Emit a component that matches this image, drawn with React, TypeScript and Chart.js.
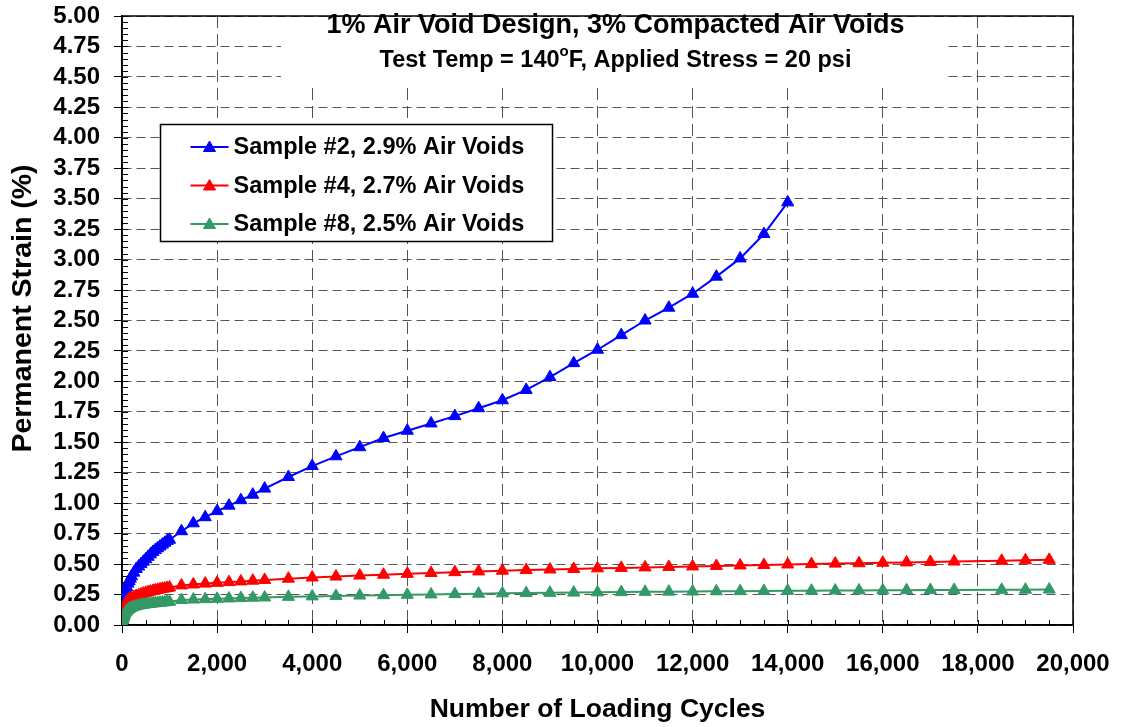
import React, { useEffect, useRef } from "react";
import { Chart, registerables } from "chart.js";

Chart.register(...registerables);

const FONT = "'Liberation Sans', Arial, Helvetica, sans-serif";

const chartTitle = "1% Air Void Design, 3% Compacted Air Voids";
const subtitleParts = ["Test Temp = 140", "o", "F, Applied Stress = 20 psi"];
const xAxisTitle = "Number of Loading Cycles";
const yAxisTitle = "Permanent Strain (%)";
const seriesNames = [
  "Sample #2, 2.9% Air Voids",
  "Sample #4, 2.7% Air Voids",
  "Sample #8, 2.5% Air Voids",
];
const seriesColors = ["#0000FF", "#FF0000", "#339966"];

const sample2Cycles = [
  0, 10, 20, 30, 40, 50, 60, 80, 100, 125, 150, 175, 200, 250, 300, 350, 400, 450, 500,
  550, 600, 650, 700, 750, 800, 850, 900, 950, 1000, 1250, 1500, 1750, 2000, 2250, 2500,
  2750, 3000, 3500, 4000, 4500, 5000, 5500, 6000, 6500, 7000, 7500, 8000, 8500, 9000,
  9500, 10000, 10500, 11000, 11500, 12000, 12500, 13000, 13500, 14000,
];
const sample2Strain = [
  0.0, 0.08, 0.13, 0.17, 0.2, 0.22, 0.24, 0.28, 0.31, 0.34, 0.36, 0.38, 0.4, 0.43, 0.46,
  0.48, 0.5, 0.52, 0.54, 0.56, 0.58, 0.6, 0.615, 0.63, 0.645, 0.66, 0.675, 0.69, 0.7,
  0.77, 0.835, 0.885, 0.935, 0.98, 1.025, 1.07, 1.12, 1.215, 1.305, 1.385, 1.46, 1.535,
  1.595, 1.655, 1.715, 1.78, 1.845, 1.93, 2.035, 2.15, 2.26, 2.38, 2.5, 2.605, 2.72,
  2.86, 3.01, 3.21, 3.47,
];

const longCycles = [
  0, 10, 20, 30, 40, 50, 60, 80, 100, 125, 150, 175, 200, 250, 300, 350, 400, 450, 500,
  550, 600, 650, 700, 750, 800, 850, 900, 950, 1000, 1250, 1500, 1750, 2000, 2250, 2500,
  2750, 3000, 3500, 4000, 4500, 5000, 5500, 6000, 6500, 7000, 7500, 8000, 8500, 9000,
  9500, 10000, 10500, 11000, 11500, 12000, 12500, 13000, 13500, 14000, 14500, 15000,
  15500, 16000, 16500, 17000, 17500, 18500, 19000, 19500,
];
const sample4Strain = [
  0.0, 0.05, 0.09, 0.115, 0.135, 0.15, 0.16, 0.175, 0.19, 0.2, 0.21, 0.215, 0.22, 0.23,
  0.238, 0.245, 0.252, 0.258, 0.264, 0.27, 0.275, 0.28, 0.285, 0.289, 0.293, 0.297, 0.3,
  0.304, 0.308, 0.325, 0.333, 0.34, 0.346, 0.352, 0.358, 0.364, 0.37, 0.38, 0.39, 0.398,
  0.406, 0.413, 0.42, 0.427, 0.434, 0.44, 0.446, 0.451, 0.456, 0.46, 0.465, 0.469, 0.473,
  0.477, 0.481, 0.485, 0.489, 0.493, 0.497, 0.5, 0.504, 0.507, 0.511, 0.514, 0.518,
  0.521, 0.527, 0.531, 0.535,
];
const sample8Strain = [
  0.0, 0.02, 0.04, 0.06, 0.075, 0.085, 0.095, 0.105, 0.115, 0.125, 0.132, 0.138, 0.143,
  0.15, 0.155, 0.16, 0.164, 0.167, 0.17, 0.173, 0.175, 0.177, 0.179, 0.181, 0.183, 0.185,
  0.187, 0.189, 0.19, 0.205, 0.209, 0.212, 0.215, 0.218, 0.221, 0.224, 0.226, 0.231,
  0.235, 0.239, 0.242, 0.245, 0.248, 0.251, 0.254, 0.257, 0.26, 0.262, 0.264, 0.266,
  0.268, 0.27, 0.272, 0.274, 0.275, 0.277, 0.278, 0.28, 0.281, 0.282, 0.283, 0.284,
  0.285, 0.286, 0.287, 0.288, 0.289, 0.29, 0.291,
];

const toPoints = (xs: number[], ys: number[]) => xs.map((x, i) => ({ x, y: ys[i] }));

function drawTriangle(ctx: CanvasRenderingContext2D, x: number, y: number, r: number, color: string) {
  ctx.beginPath();
  ctx.moveTo(x, y - r);
  ctx.lineTo(x + Math.sin((2 * Math.PI) / 3) * r, y + r / 2);
  ctx.lineTo(x - Math.sin((2 * Math.PI) / 3) * r, y + r / 2);
  ctx.closePath();
  ctx.fillStyle = color;
  ctx.fill();
  ctx.strokeStyle = color;
  ctx.lineWidth = 1;
  ctx.stroke();
}

const decorPlugin = {
  id: "decor",
  beforeDatasetsDraw(chart: any) {
    const { ctx, chartArea: a, scales } = chart;
    const xs = scales.x;
    const ys = scales.y;
    ctx.save();
    // title background
    ctx.fillStyle = "#ffffff";
    ctx.fillRect(a.left + 159, a.top + 1, 664, 70);
    // minor ticks
    ctx.strokeStyle = "#000";
    ctx.lineWidth = 1;
    ctx.beginPath();
    for (let i = 0; i <= 100; i++) {
      const py = Math.round(ys.getPixelForValue(i * 0.05)) + 0.5;
      ctx.moveTo(a.left, py);
      ctx.lineTo(a.left + 6, py);
    }
    for (let i = 0; i <= 40; i++) {
      const px = Math.round(xs.getPixelForValue(i * 500)) + 0.5;
      ctx.moveTo(px, a.bottom);
      ctx.lineTo(px, a.bottom - 5);
    }
    ctx.stroke();
    // frame
    ctx.lineWidth = 1.5;
    ctx.strokeRect(a.left, a.top, a.right - a.left, a.bottom - a.top);
    // titles
    const cx = (a.left + a.right) / 2 + 18;
    ctx.fillStyle = "#000";
    ctx.textBaseline = "middle";
    ctx.textAlign = "center";
    ctx.font = `bold 27px ${FONT}`;
    ctx.fillText(chartTitle, cx, a.top + 10);
    ctx.textAlign = "left";
    const big = `bold 23.5px ${FONT}`;
    const small = `bold 15px ${FONT}`;
    ctx.font = big;
    const w1 = ctx.measureText(subtitleParts[0]).width;
    const w3 = ctx.measureText(subtitleParts[2]).width;
    ctx.font = small;
    const w2 = ctx.measureText(subtitleParts[1]).width;
    let sx = cx - (w1 + w2 + w3) / 2;
    const sy = a.top + 45;
    ctx.font = big;
    ctx.fillText(subtitleParts[0], sx, sy);
    sx += w1;
    ctx.font = small;
    ctx.fillText(subtitleParts[1], sx, sy - 9);
    sx += w2;
    ctx.font = big;
    ctx.fillText(subtitleParts[2], sx, sy);
    // y axis title
    ctx.save();
    ctx.translate(23, (a.top + a.bottom) / 2 - 12);
    ctx.rotate(-Math.PI / 2);
    ctx.textAlign = "center";
    ctx.textBaseline = "middle";
    ctx.font = `bold 28.5px ${FONT}`;
    ctx.fillText(yAxisTitle, 0, 0);
    ctx.restore();
    ctx.restore();
  },
  afterDatasetsDraw(chart: any) {
    const { ctx, chartArea: a } = chart;
    ctx.save();
    const bx = a.left + 38.5;
    const by = a.top + 108.5;
    ctx.fillStyle = "#fff";
    ctx.fillRect(bx, by, 392, 117);
    ctx.strokeStyle = "#000";
    ctx.lineWidth = 1.5;
    ctx.strokeRect(bx, by, 392, 117);
    ctx.font = `bold 23.5px ${FONT}`;
    ctx.textBaseline = "middle";
    ctx.textAlign = "left";
    seriesNames.forEach((name, i) => {
      const ly = by + 22.5 + i * 38.5;
      ctx.strokeStyle = seriesColors[i];
      ctx.lineWidth = 2;
      ctx.beginPath();
      ctx.moveTo(bx + 30, ly);
      ctx.lineTo(bx + 68, ly);
      ctx.stroke();
      drawTriangle(ctx, bx + 49, ly + 1, 7, seriesColors[i]);
      ctx.fillStyle = "#000";
      ctx.fillText(name, bx + 73, ly + 1);
    });
    ctx.restore();
  },
};

export default function App() {
  const ref = useRef<HTMLCanvasElement | null>(null);
  useEffect(() => {
    if (!ref.current) return;
    Chart.defaults.font.family = FONT;
    const mk = (i: number, pts: { x: number; y: number }[], order: number) => ({
      label: seriesNames[i],
      data: pts,
      borderColor: seriesColors[i],
      backgroundColor: seriesColors[i],
      pointBackgroundColor: seriesColors[i],
      pointBorderColor: seriesColors[i],
      borderWidth: 2,
      pointStyle: "triangle",
      pointRadius: 7,
      pointBorderWidth: 1,
      tension: 0,
      fill: false,
      order,
    });
    const chart = new Chart(ref.current, {
      type: "line",
      data: {
        datasets: [
          mk(0, toPoints(sample2Cycles, sample2Strain), 3),
          mk(1, toPoints(longCycles, sample4Strain), 2),
          mk(2, toPoints(longCycles, sample8Strain), 1),
        ],
      },
      options: {
        animation: false,
        responsive: false,
        devicePixelRatio: 1,
        layout: { padding: { left: 0, top: 16, right: 49, bottom: 0 } },
        plugins: { legend: { display: false }, tooltip: { enabled: false }, title: { display: false } },
        scales: {
          x: {
            type: "linear",
            min: 0,
            max: 20000,
            offset: false,
            afterFit: (s: any) => {
              s.height = 102;
              s.paddingLeft = 0;
              s.paddingRight = 0;
              s.paddingTop = 0;
              s.paddingBottom = 0;
            },
            ticks: {
              stepSize: 2000,
              autoSkip: false,
              maxRotation: 0,
              padding: 17,
              color: "#000",
              font: { size: 24, weight: "bold", family: FONT },
              callback: (v: any) => Number(v).toLocaleString("en-US"),
            },
            grid: { color: "#555", lineWidth: 1, tickColor: "#000", tickLength: 8, tickWidth: 1 },
            border: { display: true, color: "#000", width: 1.5, dash: [12, 6] },
            title: {
              display: true,
              text: xAxisTitle,
              color: "#000",
              font: { size: 26.5, weight: "bold", family: FONT },
              padding: { top: 0, bottom: 1 },
            },
          },
          y: {
            type: "linear",
            min: 0,
            max: 5,
            afterFit: (s: any) => {
              s.width = 122;
              s.paddingLeft = 0;
              s.paddingRight = 0;
              s.paddingTop = 0;
              s.paddingBottom = 0;
            },
            ticks: {
              stepSize: 0.25,
              autoSkip: false,
              padding: 14,
              color: "#000",
              font: { size: 24, weight: "bold", family: FONT },
              callback: (v: any) => Number(v).toFixed(2),
            },
            grid: { color: "#555", lineWidth: 1, tickColor: "#000", tickLength: 8, tickWidth: 1 },
            border: { display: true, color: "#000", width: 1.5, dash: [9, 5] },
            title: { display: false, text: yAxisTitle },
          },
        },
      },
      plugins: [decorPlugin],
    } as any);
    return () => chart.destroy();
  }, []);
  return (
    <div style={{ position: "absolute", left: 0, top: 0, width: 1122, height: 727, background: "#fff" }}>
      <canvas ref={ref} width={1122} height={727} style={{ width: 1122, height: 727 }} />
    </div>
  );
}
